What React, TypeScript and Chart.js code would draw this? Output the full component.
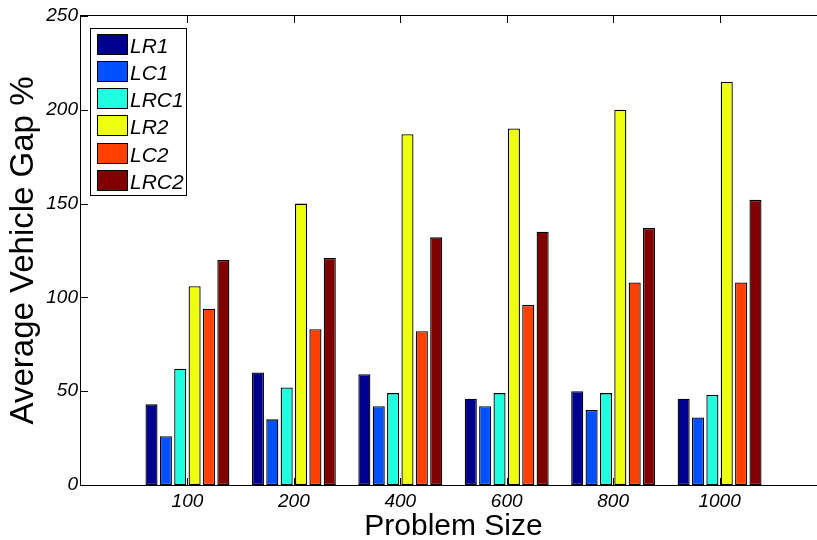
import React, { useEffect, useRef } from 'react';
import { Chart, registerables } from 'chart.js';

Chart.register(...registerables);

const CATEGORIES = ['100', '200', '400', '600', '800', '1000'];
const SERIES_NAMES = ['LR1', 'LC1', 'LRC1', 'LR2', 'LC2', 'LRC2'];
const LR1 = [43, 60, 59, 46, 50, 46];
const LC1 = [26, 35, 42, 42, 40, 36];
const LRC1 = [62, 52, 49, 49, 49, 48];
const LR2 = [106, 150, 187, 190, 200, 215];
const LC2 = [94, 83, 82, 96, 108, 108];
const LRC2 = [120, 121, 132, 135, 137, 152];
const Y_MIN = 0;
const Y_MAX = 250;
const Y_STEP = 50;
const X_TITLE = 'Problem Size';
const Y_TITLE = 'Average Vehicle Gap %';
const COLORS = ['#00008F', '#0050FF', '#20FFDF', '#EFFF10', '#FF4000', '#800000'];

const FONT = 'Liberation Sans, Arial, Helvetica, sans-serif';

export default function App() {
  const ref = useRef<HTMLCanvasElement>(null);

  useEffect(() => {
    const canvas = ref.current;
    if (!canvas) return;
    const seriesValues = [LR1, LC1, LRC1, LR2, LC2, LRC2];
    const datasets = SERIES_NAMES.map((name, s) => ({
      label: name,
      data: seriesValues[s].map((v, i) => ({ x: i + 1, y: v })),
      backgroundColor: COLORS[s],
      borderColor: '#000000',
      borderWidth: 1.3,
      borderSkipped: false,
      inflateAmount: 0,
      categoryPercentage: 0.81,
      barPercentage: 0.84,
    }));

    const framePlugin = {
      id: 'matlabFrame',
      beforeDatasetsDraw(chart: any) {
        const { ctx, chartArea } = chart;
        const xs = chart.scales.x;
        const ys = chart.scales.y;
        ctx.save();
        ctx.strokeStyle = '#000';
        ctx.lineWidth = 1;
        ctx.beginPath();
        for (let i = 1; i <= CATEGORIES.length; i++) {
          const px = Math.round(xs.getPixelForValue(i)) + 0.5;
          ctx.moveTo(px, chartArea.top);
          ctx.lineTo(px, chartArea.top + 7);
          ctx.moveTo(px, chartArea.bottom);
          ctx.lineTo(px, chartArea.bottom - 7);
        }
        for (let v = Y_MIN; v <= Y_MAX; v += Y_STEP) {
          const py = Math.round(ys.getPixelForValue(v)) + 0.5;
          ctx.moveTo(chartArea.left, py);
          ctx.lineTo(chartArea.left + 7, py);
          ctx.moveTo(chartArea.right, py);
          ctx.lineTo(chartArea.right - 7, py);
        }
        ctx.stroke();
        ctx.restore();
      },
      afterDatasetsDraw(chart: any) {
        const { ctx, chartArea } = chart;
        ctx.save();
        ctx.strokeStyle = '#000';
        ctx.lineWidth = 1;
        ctx.strokeRect(
          chartArea.left - 0.5,
          chartArea.top - 0.5,
          chartArea.right - chartArea.left,
          chartArea.bottom - chartArea.top + 1
        );
        // legend
        const bx = chartArea.left + 10;
        const by = chartArea.top + 12.5;
        const bw = 96;
        const pitch = 27.3;
        const bh = 167;
        ctx.fillStyle = '#fff';
        ctx.fillRect(bx, by, bw, bh);
        ctx.strokeRect(Math.round(bx) - 0.5, Math.round(by) - 0.5, bw, bh);
        ctx.font = `italic 21px ${FONT}`;
        ctx.textBaseline = 'alphabetic';
        ctx.textAlign = 'left';
        chart.data.datasets.forEach((ds: any, i: number) => {
          const sy = Math.round(by + 5 + i * pitch);
          ctx.fillStyle = ds.backgroundColor;
          ctx.fillRect(bx + 6, sy, 30, 21);
          ctx.strokeStyle = '#000';
          ctx.strokeRect(Math.round(bx + 6) + 0.5, sy + 0.5, 30, 20);
          ctx.fillStyle = '#000';
          ctx.fillText(ds.label, bx + 39, sy + 19);
        });
        ctx.restore();
      },
    };

    const chart = new Chart(canvas, {
      type: 'bar',
      data: { datasets },
      options: {
        animation: false,
        responsive: false,
        devicePixelRatio: 1,
        layout: { padding: { top: 16, right: 14, left: 0, bottom: 0 } },
        plugins: {
          legend: { display: false },
          tooltip: { enabled: false },
        },
        scales: {
          x: {
            type: 'linear',
            min: 0,
            max: CATEGORIES.length + 1,
            offset: false,
            grid: { display: false, drawTicks: false, offset: false },
            border: { display: false },
            afterFit: (s: any) => {
              s.height = 55;
            },
            ticks: {
              stepSize: 1,
              autoSkip: false,
              maxRotation: 0,
              padding: 5,
              color: '#000',
              font: { family: FONT, size: 19, style: 'italic' },
              callback: (v: any) => CATEGORIES[Number(v) - 1] ?? '',
            },
            title: {
              display: true,
              text: X_TITLE,
              color: '#000',
              font: { family: FONT, size: 30, lineHeight: 1 },
              padding: { top: 0, bottom: -2 },
            },
          },
          y: {
            min: Y_MIN,
            max: Y_MAX,
            grid: { display: false, drawTicks: false },
            border: { display: false },
            afterFit: (s: any) => {
              s.width = 81;
            },
            ticks: {
              stepSize: Y_STEP,
              padding: 3,
              color: '#000',
              font: { family: FONT, size: 19, style: 'italic' },
            },
            title: {
              display: true,
              text: Y_TITLE,
              color: '#000',
              font: { family: FONT, size: 33 },
              padding: { top: 4, bottom: 0 },
            },
          },
        },
      },
      plugins: [framePlugin],
    } as any);

    return () => chart.destroy();
  }, []);

  return (
    <div
      style={{
        position: 'fixed',
        left: 0,
        top: 0,
        width: 817,
        height: 540,
        overflow: 'hidden',
        background: '#fff',
      }}
    >
      <canvas ref={ref} width={840} height={540} style={{ display: 'block' }} />
    </div>
  );
}
